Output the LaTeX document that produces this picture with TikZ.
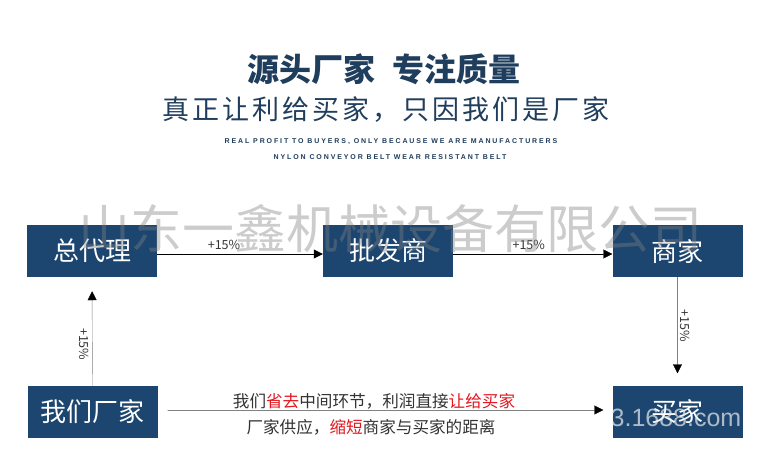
\documentclass[tikz,border=0pt]{standalone}
\usepackage{fontspec}
\usepackage{tikz}
\usetikzlibrary{arrows.meta}
\usepackage{xcolor}
\newfontfamily\cjk{Noto Sans CJK SC}
\newfontfamily\latin{Liberation Sans}
\definecolor{boxblue}{HTML}{1C4670}
\definecolor{navy}{HTML}{1F3D5C}
\definecolor{hot}{HTML}{E3161E}
\definecolor{txt}{HTML}{333333}

\begin{document}
\begin{tikzpicture}[x=1pt,y=-1pt,line cap=round,
  box/.style={fill=boxblue,text=white,minimum width=130pt,minimum height=52pt,inner sep=0pt,font=\cjk\fontsize{26}{26}\selectfont},
  flow/.style={-{Triangle[length=9pt,width=9pt,color=black]},thin},
  pct/.style={font=\cjk\fontsize{12.5}{12.5}\selectfont,text=txt,inner sep=1pt}]
\useasboundingbox (0,0) rectangle (763,453);
\fill[white] (0,0) rectangle (763,453);
% heading
\node (title) at (384,69) {\cjk\bfseries\fontsize{32}{32}\selectfont\color{navy}源头厂家\hspace{18pt}专注质量};
\node (sub) at (386,110) {\cjk\fontsize{27}{27}\selectfont\addfontfeatures{LetterSpace=11}\color{navy}真正让利给买家，只因我们是厂家};
\node (en1) at (391,142) {\latin\bfseries\fontsize{7}{7}\selectfont\addfontfeatures{LetterSpace=27}\color{navy}REAL PROFIT TO BUYERS, ONLY BECAUSE WE ARE MANUFACTURERS};
\node (en2) at (390,157) {\latin\bfseries\fontsize{7}{7}\selectfont\addfontfeatures{LetterSpace=27}\color{navy}NYLON CONVEYOR BELT WEAR RESISTANT BELT};
% chain
\node[box] (zdl) at (92,251) {总代理};
\node[box] (pfs) at (388,251) {批发商};
\node[box] (sj) at (677.5,251) {商家};
\node[box] (wmcj) at (92.5,411.5) {我们厂家};
\node[box] (mj) at (677.5,411.5) {买家};
\draw[flow] ([yshift=-3pt]zdl.east) -- ([yshift=-3pt]pfs.west) node[pct,midway,above=3pt,xshift=-16pt] {+15\%};
\draw[flow] ([yshift=-3pt]pfs.east) -- ([yshift=-3pt]sj.west) node[pct,midway,above=3pt,xshift=-4pt] {+15\%};
\draw[flow,draw=gray,shorten >=12pt] (sj.south) -- (mj.north) node[pct,pos=0.45,right=2pt,rotate=-90,anchor=south] {+15\%};
\draw[flow,draw=gray,shorten >=14pt] (wmcj.north) -- (zdl.south) node[pct,pos=0.38,left=2pt,rotate=-90,anchor=north] {+15\%};
\draw[flow,draw=gray,shorten <=10pt,shorten >=9pt] ([yshift=1.5pt]wmcj.east) -- ([yshift=1.5pt]mj.west);
\node[font=\cjk\fontsize{16.6}{16.6}\selectfont,text=txt] (save) at (374,401) {我们{\color{hot}省去}中间环节，利润直接{\color{hot}让给买家}};
\node[font=\cjk\fontsize{16.6}{16.6}\selectfont,text=txt] (dist) at (371,427) {厂家供应，{\color{hot}缩短}商家与买家的距离};
% watermark
\node[font=\cjk\fontsize{52}{52}\selectfont,text=gray,opacity=0.4] (wm) at (390,229) {山东一鑫机械设备有限公司};
\node[font=\latin\fontsize{25}{25}\selectfont,text=white!85!gray,opacity=0.7] (wm2) at (676,418) {3.1688.com};
\end{tikzpicture}
\end{document}
